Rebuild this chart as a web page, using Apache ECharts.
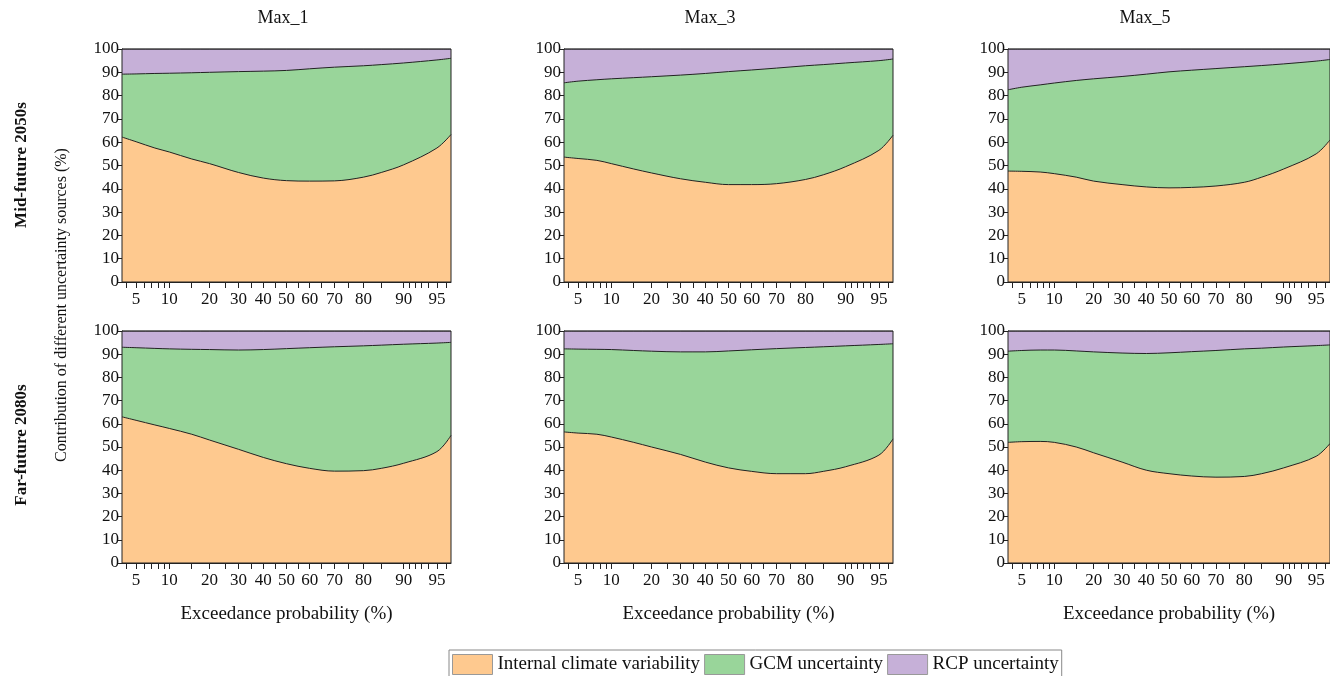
<!DOCTYPE html>
<html>
<head>
<meta charset="utf-8">
<script src="https://cdn.jsdelivr.net/npm/echarts@6/dist/echarts.min.js"></script>
<style>
  html, body { margin: 0; padding: 0; background: #fff; }
  #chart { width: 1330px; height: 676px; }
</style>
</head>
<body>
<div id="chart"></div>
<script>
// Exceedance probabilities (%) at which the contributions are given
const probs = [3.6, 5, 7.5, 10, 15, 20, 30, 40, 50, 60, 70, 80, 85, 90, 95, 96.4];

// Probability-axis ticks (%)
const tickProbs = [4, 5, 6, 7, 8, 9, 10, 15, 20, 25, 30, 35, 40, 45, 50, 55, 60, 65, 70, 75, 80, 85, 90, 91, 92, 93, 94, 95, 96];
const labelProbs = [5, 10, 20, 30, 40, 50, 60, 70, 80, 90, 95];
const yTicks = [0, 10, 20, 30, 40, 50, 60, 70, 80, 90, 100];

const colNames = ['Max_1', 'Max_3', 'Max_5'];
const rowNames = ['Mid-future 2050s', 'Far-future 2080s'];
const sourceNames = ['Internal climate variability', 'GCM uncertainty', 'RCP uncertainty'];

// Mid-future 2050s
const midMax1Internal = [62.2, 60.2, 57.5, 55.8, 52.8, 50.8, 47.0, 44.6, 43.5, 43.3, 43.4, 45.0, 47.0, 50.3, 57.5, 63.3];
const midMax1GCM      = [27.0, 29.1, 32.0, 33.8, 37.0, 39.2, 43.3, 45.9, 47.3, 48.2, 48.8, 47.8, 46.3, 43.7, 37.8, 32.7];
const midMax1RCP      = [10.8, 10.7, 10.5, 10.4, 10.2, 10.0,  9.7,  9.5,  9.2,  8.5,  7.8,  7.2,  6.7,  6.0,  4.7,  4.0];

const midMax3Internal = [53.6, 53.0, 52.2, 50.8, 48.5, 46.8, 44.3, 42.8, 41.8, 41.8, 42.2, 44.0, 46.0, 49.5, 56.5, 63.0];
const midMax3GCM      = [31.9, 33.2, 34.6, 36.4, 39.2, 41.3, 44.5, 46.7, 48.5, 49.2, 49.6, 48.8, 47.3, 44.5, 38.5, 32.7];
const midMax3RCP      = [14.5, 13.8, 13.2, 12.8, 12.3, 11.9, 11.2, 10.5,  9.7,  9.0,  8.2,  7.2,  6.7,  6.0,  5.0,  4.3];

const midMax5Internal = [47.6, 47.5, 47.2, 46.5, 45.0, 43.3, 41.8, 40.8, 40.4, 40.6, 41.2, 42.8, 45.0, 48.5, 55.0, 61.0];
const midMax5GCM      = [34.9, 36.1, 37.4, 38.9, 41.5, 43.9, 46.4, 48.4, 49.8, 50.3, 50.4, 49.6, 47.9, 45.1, 39.8, 34.5];
const midMax5RCP      = [17.5, 16.4, 15.4, 14.6, 13.5, 12.8, 11.8, 10.8,  9.8,  9.1,  8.4,  7.6,  7.1,  6.4,  5.2,  4.5];

// Far-future 2080s
const farMax1Internal = [63.0, 61.5, 59.5, 58.0, 55.5, 53.0, 49.0, 45.5, 42.8, 40.8, 39.6, 39.8, 40.8, 43.0, 48.0, 55.0];
const farMax1GCM      = [30.0, 31.3, 33.0, 34.3, 36.6, 39.0, 42.8, 46.5, 49.6, 52.0, 53.6, 53.8, 53.1, 51.3, 46.8, 40.1];
const farMax1RCP      = [ 7.0,  7.2,  7.5,  7.7,  7.9,  8.0,  8.2,  8.0,  7.6,  7.2,  6.8,  6.4,  6.1,  5.7,  5.2,  4.9];

const farMax3Internal = [56.5, 56.0, 55.5, 54.3, 52.0, 50.0, 46.8, 43.5, 41.0, 39.5, 38.5, 38.5, 39.5, 41.5, 46.5, 53.5];
const farMax3GCM      = [35.8, 36.2, 36.6, 37.7, 39.6, 41.3, 44.2, 47.5, 50.4, 52.4, 53.9, 54.4, 53.7, 52.1, 47.7, 41.0];
const farMax3RCP      = [ 7.7,  7.8,  7.9,  8.0,  8.4,  8.7,  9.0,  9.0,  8.6,  8.1,  7.6,  7.1,  6.8,  6.4,  5.8,  5.5];

const farMax5Internal = [52.0, 52.3, 52.4, 52.0, 50.0, 47.5, 43.5, 40.0, 38.5, 37.5, 37.0, 37.3, 38.5, 41.0, 46.0, 51.5];
const farMax5GCM      = [39.3, 39.3, 39.4, 39.8, 41.4, 43.5, 47.0, 50.3, 52.1, 53.6, 54.6, 55.0, 54.1, 52.1, 47.7, 42.5];
const farMax5RCP      = [ 8.7,  8.4,  8.2,  8.2,  8.6,  9.0,  9.5,  9.7,  9.4,  8.9,  8.4,  7.7,  7.4,  6.9,  6.3,  6.0];

const panels = [
  [midMax1Internal, midMax1GCM, midMax1RCP],
  [midMax3Internal, midMax3GCM, midMax3RCP],
  [midMax5Internal, midMax5GCM, midMax5RCP],
  [farMax1Internal, farMax1GCM, farMax1RCP],
  [farMax3Internal, farMax3GCM, farMax3RCP],
  [farMax5Internal, farMax5GCM, farMax5RCP]
];

const fills = ['#fec98f', '#99d59a', '#c6b0d8'];
const FONT = '"Liberation Serif", "Times New Roman", serif';

// Inverse standard normal CDF (Acklam) – position on normal probability paper
function probit(p) {
  const a = [-3.969683028665376e+01, 2.209460984245205e+02, -2.759285104469687e+02, 1.383577518672690e+02, -3.066479806614716e+01, 2.506628277459239e+00];
  const b = [-5.447609879822406e+01, 1.615858368580409e+02, -1.556989798598866e+02, 6.680131188771972e+01, -1.328068155288572e+01];
  const c = [-7.784894002430293e-03, -3.223964580411365e-01, -2.400758277161838e+00, -2.549732539343734e+00, 4.374664141464968e+00, 2.938163982698783e+00];
  const d = [7.784695709041462e-03, 3.224671290700398e-01, 2.445134137142996e+00, 3.754408661907416e+00];
  const pl = 0.02425, ph = 1 - pl;
  let q, r;
  if (p < pl) {
    q = Math.sqrt(-2 * Math.log(p));
    return (((((c[0]*q+c[1])*q+c[2])*q+c[3])*q+c[4])*q+c[5]) / ((((d[0]*q+d[1])*q+d[2])*q+d[3])*q+1);
  }
  if (p <= ph) {
    q = p - 0.5; r = q * q;
    return (((((a[0]*r+a[1])*r+a[2])*r+a[3])*r+a[4])*r+a[5])*q / (((((b[0]*r+b[1])*r+b[2])*r+b[3])*r+b[4])*r+1);
  }
  q = Math.sqrt(-2 * Math.log(1 - p));
  return -(((((c[0]*q+c[1])*q+c[2])*q+c[3])*q+c[4])*q+c[5]) / ((((d[0]*q+d[1])*q+d[2])*q+d[3])*q+1);
}
const zOf = p => probit(p / 100);

const xMin = zOf(3.6), xMax = zOf(96.4);
const tickZ = tickProbs.map(zOf);
const labelZ = labelProbs.map(zOf);

// Grid placement
const colLeft = [122, 564, 1008];
const colWidth = [329, 329, 325];
const rowTop = [49, 331];
const rowHeight = [233, 232];

const grids = [], xAxes = [], yAxes = [], series = [];
for (let i = 0; i < 6; i++) {
  const r = Math.floor(i / 3), c = i % 3;
  grids.push({
    left: colLeft[c], top: rowTop[r], width: colWidth[c], height: rowHeight[r],
    show: true, borderColor: '#222', borderWidth: 1, backgroundColor: 'transparent', z: 5
  });
  xAxes.push({
    type: 'value', gridIndex: i, min: xMin, max: xMax,
    name: r === 1 ? 'Exceedance probability (%)' : '',
    nameLocation: 'middle', nameGap: 42,
    nameTextStyle: { fontFamily: FONT, fontSize: 19, color: '#111' },
    axisLine: { show: true, onZero: false, lineStyle: { color: '#222', width: 1 } },
    axisTick: { show: true, length: 6, customValues: tickZ, lineStyle: { color: '#222', width: 1 } },
    axisLabel: {
      customValues: labelZ, margin: 9,
      fontFamily: FONT, fontSize: 17, color: '#111',
      formatter: v => {
        let best = 0, bd = Infinity;
        labelZ.forEach((z, k) => { const dd = Math.abs(z - v); if (dd < bd) { bd = dd; best = k; } });
        return String(labelProbs[best]);
      }
    },
    splitLine: { show: false }
  });
  yAxes.push({
    type: 'value', gridIndex: i, min: 0, max: 100, interval: 10,
    axisLine: { show: true, onZero: false, lineStyle: { color: '#222', width: 1 } },
    axisTick: { show: true, length: 5, lineStyle: { color: '#222', width: 1 } },
    axisLabel: { margin: 3, fontFamily: FONT, fontSize: 17, color: '#111',
      formatter: v => (yTicks.indexOf(v) >= 0 ? String(v) : '') },
    splitLine: { show: false }
  });

  // Cumulative upper boundaries of each source band
  const [inner, gcm, rcp] = panels[i];
  const bounds = [
    inner.slice(),
    inner.map((v, j) => v + gcm[j]),
    inner.map((v, j) => v + gcm[j] + rcp[j])
  ];
  // draw top band first so lower bands paint over it
  [2, 1, 0].forEach(k => {
    series.push({
      name: sourceNames[k], type: 'line', xAxisIndex: i, yAxisIndex: i,
      smooth: 0.35, symbol: 'none',
      data: bounds[k].map((v, j) => [zOf(probs[j]), v]),
      lineStyle: { color: '#222', width: 1 },
      itemStyle: { color: fills[k] },
      areaStyle: { color: fills[k], opacity: 1, origin: 'start' },
      z: 2 + (2 - k) * 0.1, silent: true, animation: false
    });
  });
}

const titles = [
  { text: colNames[0], left: 278, top: 4, textAlign: 'center' },
  { text: colNames[1], left: 705, top: 4, textAlign: 'center' },
  { text: colNames[2], left: 1140, top: 4, textAlign: 'center' }
].map(t => Object.assign(t, { textStyle: { fontFamily: FONT, fontSize: 18, fontWeight: 'normal', color: '#111' } }));

const chart = echarts.init(document.getElementById('chart'), null, { renderer: 'canvas' });
chart.setOption({
  animation: false,
  backgroundColor: '#fff',
  title: titles,
  grid: grids,
  xAxis: xAxes,
  yAxis: yAxes,
  series: series,
  legend: {
    left: 449, top: 650,
    data: sourceNames.map((n, k) => ({ name: n, itemStyle: { color: fills[k], borderColor: '#999', borderWidth: 1 } })),
    icon: 'rect', itemWidth: 40, itemHeight: 20, itemGap: 4,
    padding: [4, 3, 4, 3],
    borderColor: '#888', borderWidth: 1,
    textStyle: { fontFamily: FONT, fontSize: 19, color: '#111' },
    selectedMode: false
  },
  graphic: [
    { type: 'text', x: 22, y: 165, rotation: Math.PI / 2,
      style: { text: rowNames[0], font: 'bold 17px ' + FONT, fill: '#111', align: 'center', verticalAlign: 'middle' } },
    { type: 'text', x: 22, y: 445, rotation: Math.PI / 2,
      style: { text: rowNames[1], font: 'bold 17px ' + FONT, fill: '#111', align: 'center', verticalAlign: 'middle' } },
    { type: 'text', x: 62, y: 305, rotation: Math.PI / 2,
      style: { text: 'Contribution of different uncertainty sources (%)', font: '16px ' + FONT, fill: '#111', align: 'center', verticalAlign: 'middle' } }
  ]
});
</script>
</body>
</html>
